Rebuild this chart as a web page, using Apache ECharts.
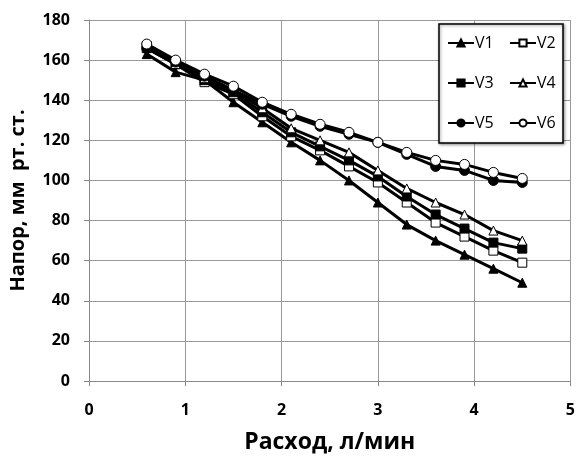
<!DOCTYPE html>
<html>
<head>
<meta charset="utf-8">
<script src="https://cdn.jsdelivr.net/npm/echarts@6/dist/echarts.min.js"></script>
<style>
  html, body { margin: 0; padding: 0; background: #fff; }
  #chart { width: 578px; height: 459px; }
</style>
</head>
<body>
<div id="chart"></div>
<script>
// flow rate, l/min
const flow = [0.6, 0.9, 1.2, 1.5, 1.8, 2.1, 2.4, 2.7, 3.0, 3.3, 3.6, 3.9, 4.2, 4.5];
// head, mm Hg
const v1 = [163, 154, 150, 139, 129, 119, 110, 100, 89, 78, 70, 63, 56, 49];
const v2 = [166, 158, 149, 143, 132, 122, 115, 107, 99, 89, 79, 72, 65, 59];
const v3 = [167, 158, 150, 144, 134, 124, 117, 110, 102, 92, 83, 76, 69, 66];
const v4 = [166, 158, 151, 145, 136, 126, 120, 114, 105, 96, 89, 83, 75, 70];
const v5 = [166, 159, 152, 145, 138, 132, 127, 123, 119, 113, 107, 105, 100, 99];
const v6 = [168, 160, 153, 147, 139, 133, 128, 124, 119, 114, 110, 108, 104, 101];

const names = ['V1', 'V2', 'V3', 'V4', 'V5', 'V6'];
const values = [v1, v2, v3, v4, v5, v6];
const symbols = ['triangle', 'rect', 'rect', 'triangle', 'circle', 'circle'];
const hollow = [false, true, false, true, false, true];

const chart = echarts.init(document.getElementById('chart'), null, { renderer: 'canvas' });

const font = '"Open Sans", "DejaVu Sans", sans-serif';

const series = names.map((name, i) => ({
  name: name,
  type: 'line',
  data: flow.map((x, j) => [x, values[i][j]]),
  symbol: symbols[i],
  symbolSize: symbols[i] === 'circle' ? 10 : 9,
  showAllSymbol: true,
  lineStyle: { color: '#000', width: 3 },
  itemStyle: {
    color: hollow[i] ? '#fff' : '#000',
    borderColor: '#000',
    borderWidth: 1
  },
  emphasis: { disabled: true },
  z: 2
}));

const legendCommon = {
  orient: 'vertical',
  itemGap: 24,
  itemWidth: 26,
  itemHeight: 9,
  z: 10,
  textStyle: { color: '#000', fontSize: 16, fontFamily: font, padding: [0, 0, 0, -4] },
  padding: 0
};

chart.setOption({
  animation: false,
  backgroundColor: '#fff',
  grid: { left: 88, right: 6, top: 20, bottom: 70 },
  xAxis: {
    type: 'value',
    min: 0, max: 5, interval: 1,
    name: 'Расход, л/мин',
    nameLocation: 'middle',
    nameGap: 50,
    nameTextStyle: { color: '#000', fontSize: 23, fontWeight: 'bold', fontFamily: font },
    axisLine: { show: true, lineStyle: { color: '#888', width: 1 } },
    axisTick: { show: true, length: 5, lineStyle: { color: '#888' } },
    axisLabel: { color: '#000', fontSize: 16, fontWeight: 'bold', fontFamily: font, margin: 21 },
    splitLine: { show: true, lineStyle: { color: '#999', width: 1 } }
  },
  yAxis: {
    type: 'value',
    min: 0, max: 180, interval: 20,
    name: 'Напор, мм  рт. ст.',
    nameLocation: 'middle',
    nameGap: 61,
    nameTextStyle: { color: '#000', fontSize: 20, fontWeight: 'bold', fontFamily: font },
    axisLine: { show: true, lineStyle: { color: '#888', width: 1 } },
    axisTick: { show: true, length: 5, lineStyle: { color: '#888' } },
    axisLabel: { color: '#000', fontSize: 16, fontWeight: 'bold', fontFamily: font, margin: 19 },
    splitLine: { show: true, lineStyle: { color: '#999', width: 1 } }
  },
  legend: [
    Object.assign({ data: ['V1', 'V3', 'V5'], left: 447, top: 35 }, legendCommon),
    Object.assign({ data: ['V2', 'V4', 'V6'], left: 509, top: 35 }, legendCommon)
  ],
  graphic: [{
    type: 'rect',
    shape: { x: 439, y: 24, width: 124, height: 119 },
    style: { fill: '#fff', stroke: '#000', lineWidth: 1.5, shadowBlur: 3, shadowColor: 'rgba(0,0,0,0.4)', shadowOffsetX: 1, shadowOffsetY: 1 },
    z: 3,
    silent: true
  }],
  series: series
});
</script>
</body>
</html>
